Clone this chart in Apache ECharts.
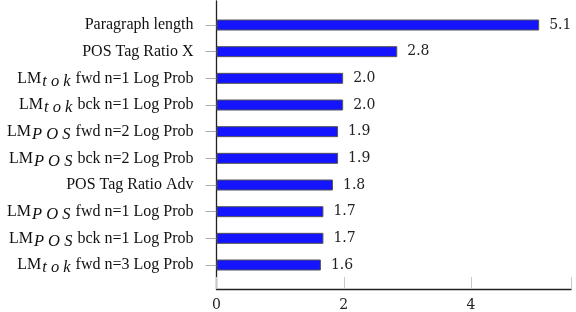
<!DOCTYPE html>
<html>
<head>
<meta charset="utf-8">
<script src="https://cdn.jsdelivr.net/npm/echarts@6/dist/echarts.min.js"></script>
<style>html,body{margin:0;padding:0;background:#fff;}#c{width:576px;height:312px;}</style>
</head>
<body>
<div id="c"></div>
<script>
// category labels: [prefix, subscript, rest]
const categoryPrefix = ['', '', 'LM', 'LM', 'LM', 'LM', '', 'LM', 'LM', 'LM'];
const categorySub = ['', '', 'tok', 'tok', 'POS', 'POS', '', 'POS', 'POS', 'tok'];
const categoryRest = ['Paragraph length', 'POS Tag Ratio X', ' fwd n=1 Log Prob', ' bck n=1 Log Prob',
  ' fwd n=2 Log Prob', ' bck n=2 Log Prob', 'POS Tag Ratio Adv', ' fwd n=1 Log Prob',
  ' bck n=1 Log Prob', ' fwd n=3 Log Prob'];
const values = [5.07, 2.84, 1.99, 1.99, 1.91, 1.91, 1.83, 1.68, 1.68, 1.64];
const xTicks = [0, 2, 4];

const categories = categoryRest.map((r, i) => String(i));

const chart = echarts.init(document.getElementById('c'));
const serif = 'Liberation Serif';
const numFont = 'DejaVu Serif';
const L = 216.5, R = 5;
chart.setOption({
  animation: false,
  backgroundColor: '#fff',
  grid: [
    {left: L, right: R, top: 1, height: 289, containLabel: false},
    {left: L, right: R, top: 11.67, height: 266.67, containLabel: false}
  ],
  xAxis: [
    {gridIndex: 0, type: 'value', min: 0, max: 5.57, interval: 2,
      axisLine: {show: true, lineStyle: {color: '#222', width: 1.3}},
      axisTick: {show: true, inside: true, length: 12, lineStyle: {color: '#c8c8c8', width: 1}},
      axisLabel: {margin: 9, fontFamily: numFont, fontSize: 14, color: '#222',
        formatter: v => xTicks.indexOf(v) >= 0 ? String(v) : ''},
      splitLine: {show: false}},
    {gridIndex: 1, type: 'value', min: 0, max: 5.57, show: false}
  ],
  yAxis: [
    {gridIndex: 0, type: 'value', min: 0, max: 1,
      axisLine: {show: true, lineStyle: {color: '#222', width: 1.3}},
      axisTick: {show: false}, axisLabel: {show: false}, splitLine: {show: false}},
    {gridIndex: 1, type: 'category', inverse: true, data: categories,
      axisLine: {show: false},
      axisTick: {show: true, alignWithLabel: true, length: 11, lineStyle: {color: '#aaa', width: 1}},
      axisLabel: {margin: 23, fontFamily: serif, fontSize: 16, color: '#111',
        formatter: (v) => {
          const i = +v;
          if (!categorySub[i]) return '{m|' + categoryRest[i] + '}';
          return '{m|' + categoryPrefix[i] + '}{s|' + categorySub[i].split('').join(' ') + '}{m|' + categoryRest[i] + '}';
        },
        rich: {
          m: {fontFamily: serif, fontSize: 16, color: '#111', lineHeight: 22, verticalAlign: 'middle'},
          s: {fontFamily: serif, fontStyle: 'italic', fontSize: 16.5, color: '#111', lineHeight: 22,
            verticalAlign: 'middle', padding: [6, 1, 0, 1]}
        }},
      splitLine: {show: false}}
  ],
  series: [{
    type: 'bar', xAxisIndex: 1, yAxisIndex: 1, data: values, barWidth: 11,
    itemStyle: {color: '#1414ff', borderColor: '#555', borderWidth: 1},
    label: {show: true, position: 'right', distance: 10, fontFamily: numFont, fontSize: 14, color: '#222',
      formatter: p => p.value.toFixed(1)}
  }]
});
</script>
</body>
</html>
